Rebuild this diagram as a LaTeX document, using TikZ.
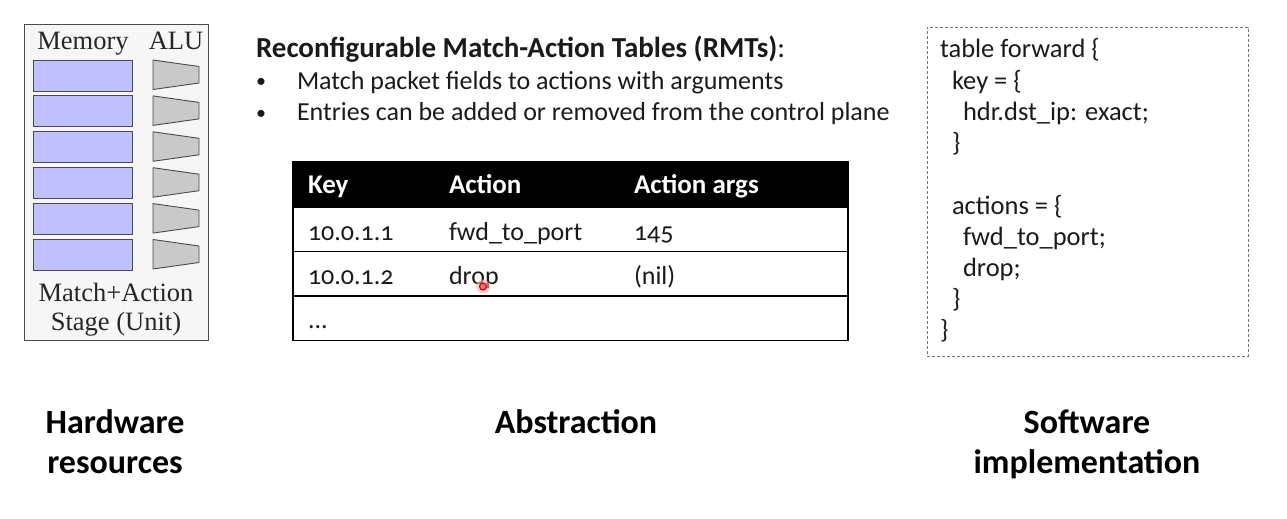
\documentclass[tikz,border=0pt]{standalone}
\usepackage{fontspec}
\setmainfont{Carlito}
\newfontfamily\hwfont{Liberation Serif}
\newfontfamily\tabfont{Carlito}[Numbers=OldStyle]
\definecolor{memblue}{HTML}{C0C0FF}
\definecolor{alugray}{HTML}{C9C9C9}
\definecolor{hwbg}{HTML}{F6F6F6}
\definecolor{hwline}{HTML}{4A4A4A}
\definecolor{txt}{HTML}{1A1A1A}
\begin{document}
\begin{tikzpicture}[x=1pt,y=-1pt,
  every node/.style={inner sep=0pt, outer sep=0pt},
  memcell/.style={draw=hwline, fill=memblue, line width=0.9pt,
    minimum width=99pt, minimum height=31pt, anchor=north west},
  alu/.style={draw=hwline, fill=alugray, line width=0.9pt, line join=round},
  hwtext/.style={font=\hwfont\fontsize{26.5}{28}\selectfont, text=black!85, anchor=base},
  body/.style={font=\fontsize{26}{30}\selectfont, text=txt, anchor=base west},
  bulletmark/.style={font=\fontsize{20}{22}\selectfont, text=txt, anchor=base west},
  cell/.style={font=\tabfont\fontsize{26}{28}\selectfont, text=txt, anchor=base west},
  headcell/.style={font=\tabfont\bfseries\fontsize{27}{28}\selectfont, text=white, anchor=base west},
  rowbox/.style={draw=black, line width=1.1pt, minimum width=555pt, minimum height=44.7pt, anchor=north west},
  codeline/.style={font=\fontsize{26.5}{30}\selectfont, text=txt, anchor=base west},
  caption/.style={font=\bfseries\fontsize{34}{40}\selectfont, text=black, align=center, anchor=base}
]
\useasboundingbox (0,0) rectangle (1287,519);

% ---------- hardware: one match+action stage ----------
\node[draw=hwline, fill=hwbg, line width=0.9pt, minimum width=184pt, minimum height=316pt,
      anchor=north west] (stage) at (24,24) {};
\node[hwtext] (memlabel) at (83,50) {Memory};
\node[hwtext] (alulabel) at (176,50) {ALU};
\foreach \i in {1,...,6} {
  \pgfmathsetmacro{\top}{60+35.9*(\i-1)}
  \node[memcell] (mem\i) at (33,\top) {};
  \draw[alu] (153,\top) -- (199,\top+6.5) -- (199,\top+23) -- (153,\top+29.5) -- cycle;
}
\node[hwtext] (stagea) at (116,301.5) {Match+Action};
\node[hwtext] (stageb) at (116,330) {Stage (Unit)};

% ---------- abstraction: match-action table ----------
\node[body, font=\fontsize{29}{30}\selectfont] (title) at (256,57)
  {\textbf{Reconfigurable Match-Action Tables (RMTs)}:};
\node[bulletmark] (dot1) at (256,88) {\textbullet};
\node[body] (item1) at (297,89) {Match packet fields to actions with arguments};
\node[bulletmark] (dot2) at (256,119) {\textbullet};
\node[body] (item2) at (297,120) {Entries can be added or removed from the control plane};

\node[rowbox, fill=black] (head) at (293,162) {};
\node[rowbox] (row1) at (293,207) {};
\node[rowbox] (row2) at (293,251.5) {};
\node[rowbox] (row3) at (293,296) {};

\node[headcell] (hkey) at (308,193) {Key};
\node[headcell] (hact) at (449,193) {Action};
\node[headcell] (harg) at (634,193) {Action args};

\node[cell] (k1) at (308,240) {10.0.1.1};
\node[cell] (a1) at (449,240) {fwd\_to\_port};
\node[cell] (g1) at (634,240) {145};
\node[cell] (k2) at (308,284) {10.0.1.2};
\node[cell] (a2) at (449,284) {drop};
\node[cell] (g2) at (634,284) {(nil)};
\node[cell] (k3) at (308,328) {...};

% pointer spot
\fill[red!30, opacity=0.6] (483,286.5) circle (7);
\draw[red!85!black, fill=red!55, line width=1.2pt] (483,286.5) circle (3.5);

% ---------- software: P4 table declaration ----------
\node[draw=black!55, dash pattern=on 3pt off 2pt, line width=0.8pt,
      minimum width=321pt, minimum height=329pt, anchor=north west] (code) at (927,27) {};
\node[codeline] (c1) at (940,58)  {table forward \{};
\node[codeline] (c2) at (952,89)  {key = \{};
\node[codeline] (c3) at (963,120) {hdr.dst\_ip: exact;};
\node[codeline] (c4) at (952,151) {\}};
\node[codeline] (c5) at (952,214) {actions = \{};
\node[codeline] (c6) at (963,245) {fwd\_to\_port;};
\node[codeline] (c7) at (963,276) {drop;};
\node[codeline] (c8) at (952,307) {\}};
\node[codeline] (c9) at (940,338) {\}};

% ---------- captions ----------
\node[caption] (hwcap) at (115,473) {Hardware\\resources};
\node[caption] (abcap) at (576,433) {Abstraction};
\node[caption] (swcap) at (1087,473) {Software\\implementation};
\end{tikzpicture}
\end{document}
